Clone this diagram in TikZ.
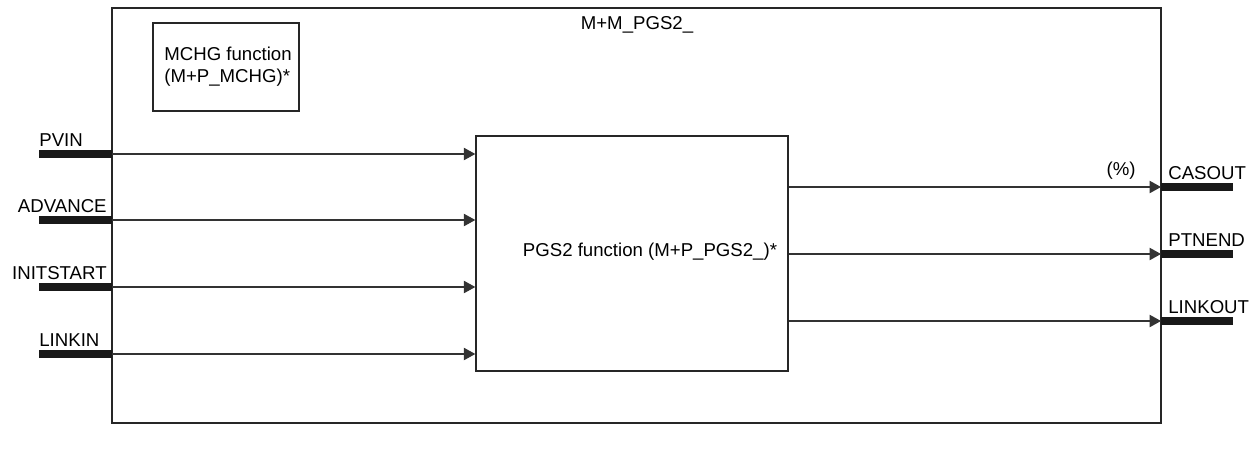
\documentclass[tikz,border=0pt]{standalone}
\usepackage{fontspec}
\setmainfont{Liberation Sans}
\usetikzlibrary{arrows.meta, positioning}

\tikzset{
  box/.style={draw=black!85, line width=0.8pt, inner sep=0pt},
  sig/.style={draw=black!80, line width=0.7pt, -{Triangle[length=6.5pt, width=7pt]}},
  bar/.style={draw=black!90, line width=4pt},
  port/.style={inner sep=0pt},
}

\begin{document}
\begin{tikzpicture}[x=0.02cm, y=-0.02cm, font=\fontsize{10.6}{12.5}\selectfont]
\useasboundingbox (0,0) rectangle (1252,450);
% outer block and inner function boxes
\node (fb) [box, minimum width=1049*0.02cm, minimum height=415*0.02cm] at (636.5,215.5) {};
\node (fbname) [inner sep=0pt] at (637,25) {M+M\_PGS2\_};
\node (mchg) [box, minimum width=146*0.02cm, minimum height=88*0.02cm] at (226,67) {};
\node (mchglbl) [inner sep=0pt, align=left, anchor=west] at (164,67) {MCHG function\\(M+P\_MCHG)*};
\node (pgs) [box, minimum width=312*0.02cm, minimum height=235*0.02cm] at (632,253.5) {};
\node (pgslbl) [inner sep=0pt] at (650,252) {PGS2 function (M+P\_PGS2\_)*};
% inputs
\foreach \y/\name/\txt/\side in {154/pvin/PVIN/l,220/advance/ADVANCE/r,287/initstart/INITSTART/r,354/linkin/LINKIN/l} {
  \coordinate (\name) at (112,\y);
  \draw[bar] (39,\y) -- (\name);
  \if l\side
    \node (\name lbl) [port, anchor=south west] at (39,\y-7) {\txt};
  \else
    \node (\name lbl) [port, anchor=south east] at (107,\y-7) {\txt};
  \fi
  \draw[sig] (\name) -- (\name -| pgs.west);
}
% outputs
\foreach \y/\name/\txt in {187/casout/CASOUT,254/ptnend/PTNEND,321/linkout/LINKOUT} {
  \coordinate (\name) at (1161,\y);
  \draw[bar] (\name) -- (1233,\y);
  \node (\name lbl) [port, anchor=south west] at (1168,\y-7) {\txt};
  \draw[sig] (\name -| pgs.east) -- (\name);
}
\node (pct) [port, anchor=south east] at (1136,180) {(\%)};
\end{tikzpicture}
\end{document}
